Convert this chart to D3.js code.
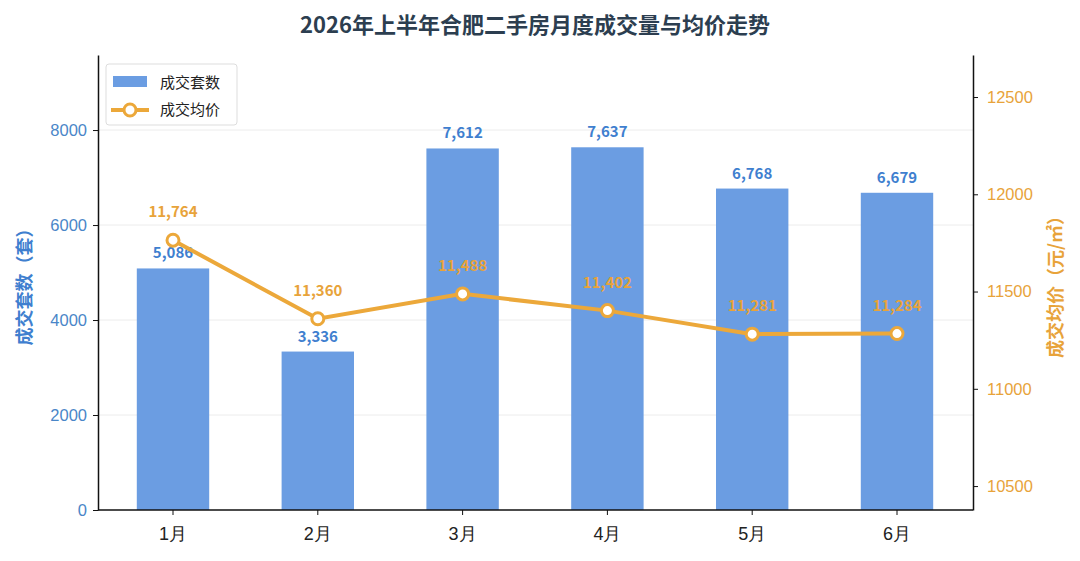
<!DOCTYPE html>
<html>
<head>
<meta charset="utf-8">
<script src="https://cdn.jsdelivr.net/npm/d3@7"></script>
<style>
  body { margin: 0; background: #fff; }
  svg { display: block; font-family: "Noto Sans CJK SC", "Noto Sans", sans-serif; }
</style>
</head>
<body>
<svg width="1080" height="561"></svg>
<script>
// data
const months = ['1月', '2月', '3月', '4月', '5月', '6月'];
const deals = [5086, 3336, 7612, 7637, 6768, 6679];
const prices = [11764, 11360, 11488, 11402, 11281, 11284];
const leftTicks = [0, 2000, 4000, 6000, 8000];
const rightTicks = [10500, 11000, 11500, 12000, 12500];

const blue = '#6b9de2';
const blueText = '#3f7fcf';
const orange = '#eca83a';
const orangeText = '#e8a33a';

const svg = d3.select('svg');
const plotL = 98, plotR = 973, plotT = 55, plotB = 510;

// scales
const x = d3.scaleBand().domain(months).range([100.6, 969.4]).paddingInner(0.5).paddingOuter(0.25);
const yL = d3.scaleLinear().domain([0, 9580]).range([plotB, plotT]);
const yR = d3.scaleLinear().domain([10377, 12716]).range([plotB, plotT]);

// title
svg.append('text')
  .attr('x', 535).attr('y', 33)
  .attr('text-anchor', 'middle')
  .attr('font-size', 22).attr('font-weight', 'bold')
  .attr('fill', '#2c3e50')
  .text('2026年上半年合肥二手房月度成交量与均价走势');

// grid lines
svg.append('g').selectAll('line')
  .data(leftTicks.slice(1))
  .join('line')
  .attr('x1', plotL).attr('x2', plotR)
  .attr('y1', d => yL(d)).attr('y2', d => yL(d))
  .attr('stroke', '#ececec').attr('stroke-width', 1);

// bars
svg.append('g').selectAll('rect')
  .data(deals)
  .join('rect')
  .attr('x', (d, i) => x(months[i]))
  .attr('y', d => yL(d))
  .attr('width', x.bandwidth())
  .attr('height', d => plotB - yL(d))
  .attr('fill', blue);

// bar labels
svg.append('g').selectAll('text')
  .data(deals)
  .join('text')
  .attr('x', (d, i) => x(months[i]) + x.bandwidth() / 2)
  .attr('y', d => yL(d) - 10)
  .attr('text-anchor', 'middle')
  .attr('font-size', 15).attr('font-weight', 'bold')
  .attr('fill', blueText)
  .text(d => d3.format(',')(d));

// price line
const cx = (d, i) => x(months[i]) + x.bandwidth() / 2;
const line = d3.line().x(cx).y(d => yR(d));
svg.append('path')
  .datum(prices)
  .attr('d', line)
  .attr('fill', 'none')
  .attr('stroke', orange)
  .attr('stroke-width', 4);

svg.append('g').selectAll('circle')
  .data(prices)
  .join('circle')
  .attr('cx', cx)
  .attr('cy', d => yR(d))
  .attr('r', 6)
  .attr('fill', '#fff')
  .attr('stroke', orange)
  .attr('stroke-width', 3);

svg.append('g').selectAll('text')
  .data(prices)
  .join('text')
  .attr('x', cx)
  .attr('y', d => yR(d) - 23)
  .attr('text-anchor', 'middle')
  .attr('font-size', 15).attr('font-weight', 'bold')
  .attr('fill', orangeText)
  .text(d => d3.format(',')(d));

// axes
const axL = svg.append('g')
  .attr('transform', `translate(${plotL},0)`)
  .call(d3.axisLeft(yL).tickValues(leftTicks).tickFormat(d3.format('d'))
    .tickSize(5).tickPadding(6).tickSizeOuter(0));
axL.selectAll('text').attr('fill', '#4a86c8').attr('font-size', 16.5).attr('font-family', 'inherit');

const axR = svg.append('g')
  .attr('transform', `translate(${plotR},0)`)
  .call(d3.axisRight(yR).tickValues(rightTicks).tickFormat(d3.format('d'))
    .tickSize(5).tickPadding(9).tickSizeOuter(0));
axR.selectAll('text').attr('fill', orangeText).attr('font-size', 16.5).attr('font-family', 'inherit');

const axB = svg.append('g')
  .attr('transform', `translate(0,${plotB})`)
  .call(d3.axisBottom(x).tickSize(5).tickPadding(12).tickSizeOuter(0));
axB.selectAll('text').attr('fill', '#222').attr('font-size', 18).attr('font-family', 'inherit');

[axL, axR, axB].forEach(a => {
  a.selectAll('.domain').attr('stroke', '#111').attr('stroke-width', 1.5);
  a.selectAll('.tick line').attr('stroke', '#111');
});
// extend the bottom spine to both side axes
axB.select('.domain').attr('d', `M${plotL},0H${plotR}`);

// axis titles
svg.append('text')
  .attr('transform', `translate(31,${(plotT + plotB) / 2}) rotate(-90)`)
  .attr('text-anchor', 'middle')
  .attr('font-size', 18).attr('font-weight', 'bold')
  .attr('fill', blueText)
  .text('成交套数（套）');

svg.append('text')
  .attr('transform', `translate(1062,${(plotT + plotB) / 2}) rotate(-90)`)
  .attr('text-anchor', 'middle')
  .attr('font-size', 18).attr('font-weight', 'bold')
  .attr('fill', orangeText)
  .text('成交均价（元/㎡）');

// legend
const lg = svg.append('g');
lg.append('rect')
  .attr('x', 106).attr('y', 64).attr('width', 131).attr('height', 61).attr('rx', 3)
  .attr('fill', '#fff').attr('stroke', '#ddd');
lg.append('rect')
  .attr('x', 113).attr('y', 76).attr('width', 34).attr('height', 11)
  .attr('fill', blue);
lg.append('text').attr('x', 160).attr('y', 88).attr('font-size', 15).attr('fill', '#222').text('成交套数');
lg.append('line')
  .attr('x1', 111).attr('x2', 149).attr('y1', 110).attr('y2', 110)
  .attr('stroke', orange).attr('stroke-width', 4);
lg.append('circle')
  .attr('cx', 130).attr('cy', 110).attr('r', 6)
  .attr('fill', '#fff').attr('stroke', orange).attr('stroke-width', 3);
lg.append('text').attr('x', 160).attr('y', 115).attr('font-size', 15).attr('fill', '#222').text('成交均价');
</script>
</body>
</html>
